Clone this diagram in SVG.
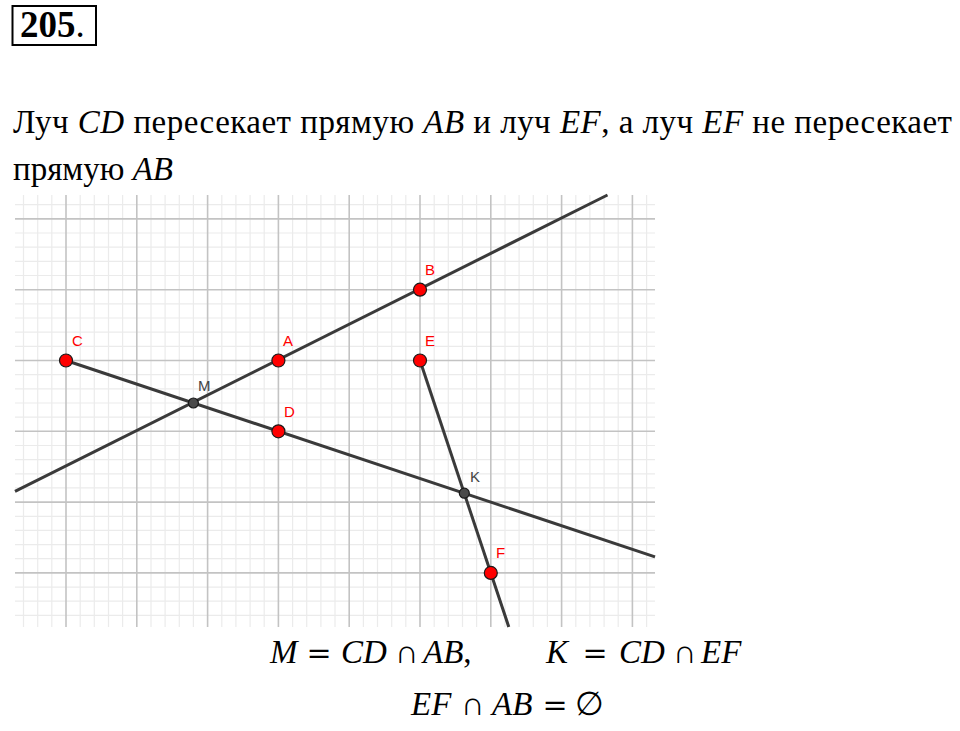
<svg xmlns="http://www.w3.org/2000/svg" width="960" height="731" viewBox="0 0 960 731">
<style>
.t{font-family:"Liberation Serif","Times New Roman",serif;font-size:33px;fill:#000}
.f{font-family:"Liberation Serif","Times New Roman",serif;font-size:33px;fill:#000;font-style:italic}
.op{font-family:"Liberation Serif","Times New Roman",serif;font-size:33px;fill:#000;text-anchor:middle}
.eq{font-family:"DejaVu Serif",serif;font-size:30px;fill:#000;text-anchor:middle}
.i{font-style:italic}
.mn{stroke:#ebebeb;stroke-width:1.2}
.mj{stroke:#c3c3c3;stroke-width:1.6}
.ln{stroke:#3a3a3a;stroke-width:3;stroke-linecap:butt;fill:none}
.rp{fill:#ff0000;stroke:#1a1a1a;stroke-width:1.2}
.dp{fill:#4a4a4a;stroke:#1a1a1a;stroke-width:1.2}
.rl{font-family:"Liberation Sans",Arial,sans-serif;font-size:15px;fill:#ff0000}
.dl{font-family:"Liberation Sans",Arial,sans-serif;font-size:15px;fill:#444}
</style>
<rect width="960" height="731" fill="#fff"/>
<g id="title">
<rect x="12.5" y="6" width="83.5" height="39" fill="none" stroke="#000" stroke-width="2"/>
<text x="20" y="37" font-family="Liberation Serif,serif" font-size="37" font-weight="bold">205<tspan font-weight="normal">.</tspan></text>
</g>
<g id="statement">
<text class="t" x="13" y="133" textLength="939" lengthAdjust="spacing">Луч <tspan class="i">CD</tspan> пересекает прямую <tspan class="i">AB</tspan> и луч <tspan class="i">EF</tspan>, а луч <tspan class="i">EF</tspan> не пересекает</text>
<text class="t" x="13" y="180">прямую <tspan class="i">AB</tspan></text>
</g>
<g id="grid">
<g class="mn">
<line x1="23.5" y1="195" x2="23.5" y2="627"/><line x1="37.7" y1="195" x2="37.7" y2="627"/><line x1="51.8" y1="195" x2="51.8" y2="627"/>
<line x1="80.2" y1="195" x2="80.2" y2="627"/><line x1="94.3" y1="195" x2="94.3" y2="627"/><line x1="108.5" y1="195" x2="108.5" y2="627"/><line x1="122.6" y1="195" x2="122.6" y2="627"/>
<line x1="151" y1="195" x2="151" y2="627"/><line x1="165.1" y1="195" x2="165.1" y2="627"/><line x1="179.3" y1="195" x2="179.3" y2="627"/><line x1="193.4" y1="195" x2="193.4" y2="627"/>
<line x1="221.8" y1="195" x2="221.8" y2="627"/><line x1="235.9" y1="195" x2="235.9" y2="627"/><line x1="250.1" y1="195" x2="250.1" y2="627"/><line x1="264.2" y1="195" x2="264.2" y2="627"/>
<line x1="292.6" y1="195" x2="292.6" y2="627"/><line x1="306.7" y1="195" x2="306.7" y2="627"/><line x1="320.9" y1="195" x2="320.9" y2="627"/><line x1="335" y1="195" x2="335" y2="627"/>
<line x1="363.4" y1="195" x2="363.4" y2="627"/><line x1="377.5" y1="195" x2="377.5" y2="627"/><line x1="391.7" y1="195" x2="391.7" y2="627"/><line x1="405.8" y1="195" x2="405.8" y2="627"/>
<line x1="434.2" y1="195" x2="434.2" y2="627"/><line x1="448.3" y1="195" x2="448.3" y2="627"/><line x1="462.5" y1="195" x2="462.5" y2="627"/><line x1="476.6" y1="195" x2="476.6" y2="627"/>
<line x1="505" y1="195" x2="505" y2="627"/><line x1="519.1" y1="195" x2="519.1" y2="627"/><line x1="533.3" y1="195" x2="533.3" y2="627"/><line x1="547.4" y1="195" x2="547.4" y2="627"/>
<line x1="575.8" y1="195" x2="575.8" y2="627"/><line x1="589.9" y1="195" x2="589.9" y2="627"/><line x1="604.1" y1="195" x2="604.1" y2="627"/><line x1="618.2" y1="195" x2="618.2" y2="627"/>
<line x1="646.6" y1="195" x2="646.6" y2="627"/>
<line x1="15" y1="204.7" x2="655" y2="204.7"/>
<line x1="15" y1="233" x2="655" y2="233"/><line x1="15" y1="247.2" x2="655" y2="247.2"/><line x1="15" y1="261.3" x2="655" y2="261.3"/><line x1="15" y1="275.5" x2="655" y2="275.5"/>
<line x1="15" y1="303.9" x2="655" y2="303.9"/><line x1="15" y1="318" x2="655" y2="318"/><line x1="15" y1="332.2" x2="655" y2="332.2"/><line x1="15" y1="346.3" x2="655" y2="346.3"/>
<line x1="15" y1="374.7" x2="655" y2="374.7"/><line x1="15" y1="388.8" x2="655" y2="388.8"/><line x1="15" y1="403" x2="655" y2="403"/><line x1="15" y1="417.1" x2="655" y2="417.1"/>
<line x1="15" y1="445.5" x2="655" y2="445.5"/><line x1="15" y1="459.6" x2="655" y2="459.6"/><line x1="15" y1="473.8" x2="655" y2="473.8"/><line x1="15" y1="487.9" x2="655" y2="487.9"/>
<line x1="15" y1="516.3" x2="655" y2="516.3"/><line x1="15" y1="530.4" x2="655" y2="530.4"/><line x1="15" y1="544.6" x2="655" y2="544.6"/><line x1="15" y1="558.7" x2="655" y2="558.7"/>
<line x1="15" y1="587.1" x2="655" y2="587.1"/><line x1="15" y1="601.2" x2="655" y2="601.2"/><line x1="15" y1="615.4" x2="655" y2="615.4"/>
</g>
<g class="mj">
<line x1="66" y1="195" x2="66" y2="627"/><line x1="136.8" y1="195" x2="136.8" y2="627"/><line x1="207.6" y1="195" x2="207.6" y2="627"/><line x1="278.4" y1="195" x2="278.4" y2="627"/><line x1="349.2" y1="195" x2="349.2" y2="627"/><line x1="420" y1="195" x2="420" y2="627"/><line x1="490.8" y1="195" x2="490.8" y2="627"/><line x1="561.6" y1="195" x2="561.6" y2="627"/><line x1="632.4" y1="195" x2="632.4" y2="627"/>
<line x1="15" y1="218.9" x2="655" y2="218.9"/><line x1="15" y1="289.7" x2="655" y2="289.7"/><line x1="15" y1="360.5" x2="655" y2="360.5"/><line x1="15" y1="431.3" x2="655" y2="431.3"/><line x1="15" y1="502.1" x2="655" y2="502.1"/><line x1="15" y1="572.9" x2="655" y2="572.9"/>
</g>
</g>
<g id="connectors">
<line class="ln" x1="15" y1="491.4" x2="607.5" y2="195"/>
<line class="ln" x1="66" y1="360.5" x2="655" y2="556.8"/>
<line class="ln" x1="420" y1="360.5" x2="508.8" y2="627"/>
</g>
<g id="point-C"><circle class="rp" cx="66" cy="360.5" r="6.5"/><text class="rl" x="72" y="346">C</text></g>
<g id="point-A"><circle class="rp" cx="278.4" cy="360.5" r="6.5"/><text class="rl" x="283" y="346">A</text></g>
<g id="point-B"><circle class="rp" cx="420" cy="289.7" r="6.5"/><text class="rl" x="425" y="275">B</text></g>
<g id="point-E"><circle class="rp" cx="420" cy="360.5" r="6.5"/><text class="rl" x="425" y="346">E</text></g>
<g id="point-D"><circle class="rp" cx="278.4" cy="431.3" r="6.5"/><text class="rl" x="284" y="417">D</text></g>
<g id="point-F"><circle class="rp" cx="490.8" cy="572.9" r="6.5"/><text class="rl" x="496" y="558">F</text></g>
<g id="point-M"><circle class="dp" cx="193.4" cy="403" r="5"/><text class="dl" x="198" y="391">M</text></g>
<g id="point-K"><circle class="dp" cx="464.3" cy="493.2" r="5"/><text class="dl" x="470" y="482">K</text></g>
<g id="formulas">
<text class="f" x="270" y="663">M</text>
<text class="eq" x="319" y="663">=</text>
<text class="f" x="341" y="663">CD</text>
<text class="op" x="407" y="663">∩</text>
<text class="f" x="423" y="663">AB<tspan font-style="normal">,</tspan></text>
<text class="f" x="546" y="663">K</text>
<text class="eq" x="595" y="663">=</text>
<text class="f" x="619" y="663">CD</text>
<text class="op" x="685" y="663">∩</text>
<text class="f" x="701" y="663">EF</text>
<text class="f" x="411" y="715">EF</text>
<text class="op" x="473" y="715">∩</text>
<text class="f" x="492" y="715">AB</text>
<text class="eq" x="555" y="715">=</text>
<text class="op" x="589" y="715" font-size="30">∅</text>
</g>
</svg>
